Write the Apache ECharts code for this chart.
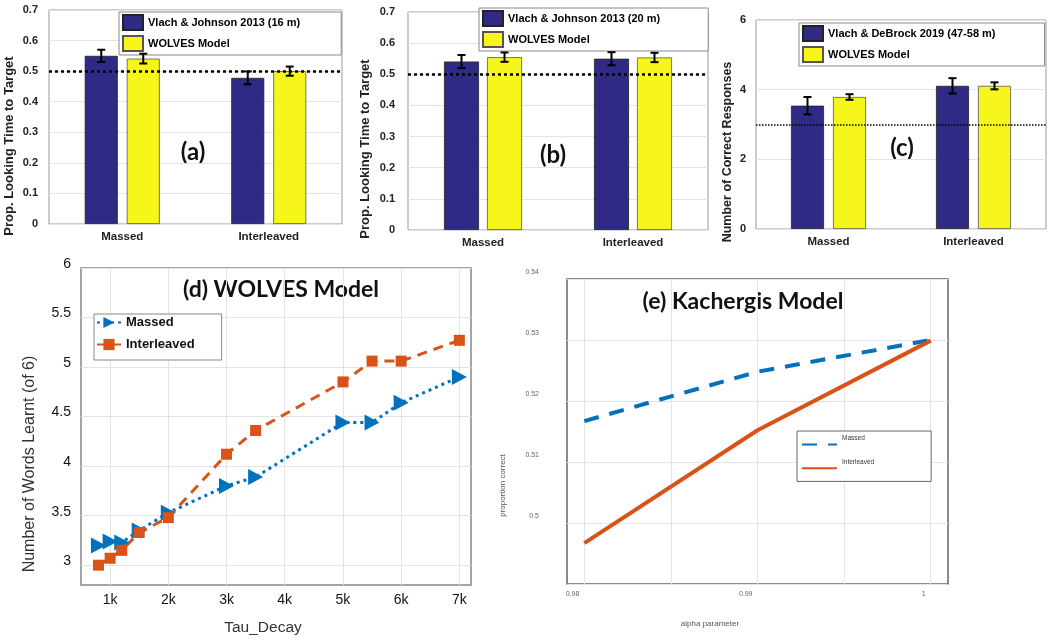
<!DOCTYPE html>
<html><head><meta charset="utf-8">
<script src="https://cdn.jsdelivr.net/npm/echarts@6/dist/echarts.min.js"></script>
<style>html,body{margin:0;padding:0;background:#fff}#c{width:1050px;height:639px}</style>
</head><body><div id="c"></div>
<script>
// ---------- data ----------
const categories = ['Massed', 'Interleaved'];
const modelName = 'WOLVES Model';

const aStudyName = 'Vlach & Johnson 2013 (16 m)';
const aStudy = [0.55, 0.478];
const aStudyErr = [0.02, 0.021];
const aModel = [0.541, 0.50];
const aModelErr = [0.016, 0.015];

const bStudyName = 'Vlach & Johnson 2013 (20 m)';
const bStudy = [0.541, 0.55];
const bStudyErr = [0.021, 0.021];
const bModel = [0.555, 0.554];
const bModelErr = [0.015, 0.015];

const cStudyName = 'Vlach & DeBrock 2019 (47-58 m)';
const cStudy = [3.54, 4.11];
const cStudyErr = [0.25, 0.22];
const cModel = [3.79, 4.11];
const cModelErr = [0.08, 0.1];

const chanceProp = 0.5;
const chanceCount = 3;

const tauDecay = [800, 1000, 1200, 1500, 2000, 3000, 3500, 5000, 5500, 6000, 7000];
const dMassed = [3.20, 3.24, 3.23, 3.35, 3.53, 3.80, 3.89, 4.44, 4.44, 4.64, 4.90];
const dInterleaved = [3.00, 3.07, 3.15, 3.33, 3.48, 4.12, 4.36, 4.85, 5.06, 5.06, 5.27];

const alphaParam = [0.98, 0.99, 1.0];
const eMassed = [0.5167, 0.5248, 0.5300];
const eInterleaved = [0.4967, 0.5152, 0.5299];

const panelLabels = ['(a)', '(b)', '(c)'];
const dTitle = '(d) WOLVES Model';
const eTitle = '(e) Kachergis Model';

// ---------- styling ----------
const FONT = '"Liberation Sans", Arial, sans-serif';
const TITLE_FONT = 'Lato, "Open Sans", sans-serif';
const BLUE_BAR = '#2f2a85';
const YELLOW_BAR = '#f6f61a';
const MBLUE = '#0072BD';
const MORANGE = '#D95319';
const T = 'rgba(0,0,0,0)';
const GRIDC = '#e4e4e4';

function errRender(offset) {
  return function (params, api) {
    const c = api.value(0), m = api.value(1), e = api.value(2);
    const x = api.coord([c, m])[0] + offset;
    const top = api.coord([c, m + e])[1];
    const bot = api.coord([c, m - e])[1];
    const cap = 4;
    const st = { stroke: '#000', lineWidth: 2 };
    return { type: 'group', children: [
      { type: 'line', shape: { x1: x, y1: top, x2: x, y2: bot }, style: st },
      { type: 'line', shape: { x1: x - cap, y1: top, x2: x + cap, y2: top }, style: st },
      { type: 'line', shape: { x1: x - cap, y1: bot, x2: x + cap, y2: bot }, style: st }
    ]};
  };
}

function barSeries(key, idx, studyName, study, studyErr, model, modelErr, barW, gap, chance, chanceW, chanceDash) {
  const off = (barW + gap) / 2;
  const mk = {
    silent: true, symbol: ['none', 'none'], label: { show: false },
    lineStyle: { color: '#000', width: chanceW, type: chanceDash },
    data: [{ yAxis: chance }]
  };
  return [
    { type: 'bar', name: key + '~' + studyName, xAxisIndex: idx, yAxisIndex: idx,
      data: study, barWidth: barW, barGap: (gap / barW * 100) + '%',
      itemStyle: { color: BLUE_BAR, borderColor: '#222', borderWidth: 0.8 } },
    { type: 'bar', name: key + '~' + modelName, xAxisIndex: idx, yAxisIndex: idx,
      data: model, barWidth: barW, barGap: (gap / barW * 100) + '%',
      itemStyle: { color: YELLOW_BAR, borderColor: '#555', borderWidth: 0.8 }, markLine: mk },
    { type: 'custom', xAxisIndex: idx, yAxisIndex: idx, renderItem: errRender(-off),
      data: study.map((v, i) => [i, v, studyErr[i]]), encode: { x: 0, y: 1 }, z: 5 },
    { type: 'custom', xAxisIndex: idx, yAxisIndex: idx, renderItem: errRender(off),
      data: model.map((v, i) => [i, v, modelErr[i]]), encode: { x: 0, y: 1 }, z: 5 }
  ];
}

function barLegend(key, studyName, left, top, padR) {
  return {
    left: left, top: top, orient: 'vertical', selectedMode: false,
    data: [key + '~' + studyName, key + '~' + modelName],
    formatter: n => n.split('~')[1],
    icon: 'rect', itemWidth: 20, itemHeight: 15, itemGap: 4,
    padding: [2, padR, 3, 3], backgroundColor: '#fff', borderColor: '#888', borderWidth: 1,
    textStyle: { fontFamily: FONT, fontWeight: 'bold', fontSize: 11, color: '#000' }
  };
}

function catX(idx) {
  return { type: 'category', gridIndex: idx, data: categories,
    axisLine: { show: false }, axisTick: { show: false },
    axisLabel: { fontFamily: FONT, fontWeight: 'bold', fontSize: 11.5, color: '#222', margin: 7 },
    splitLine: { show: false } };
}
function valY(idx, max, interval, name, gap, pad, margin, nameSize) {
  return { type: 'value', gridIndex: idx, min: 0, max: max, interval: interval,
    name: name, nameLocation: 'middle', nameGap: gap,
    nameTextStyle: { fontFamily: FONT, fontWeight: 'bold', fontSize: nameSize, color: '#222', padding: [0, pad, 0, 0] },
    axisLine: { show: false }, axisTick: { show: false },
    axisLabel: { fontFamily: FONT, fontWeight: 'bold', fontSize: 11, color: '#222', margin: margin },
    splitLine: { show: true, lineStyle: { color: GRIDC, width: 1 } } };
}

const option = {
  animation: false,
  backgroundColor: '#fff',
  textStyle: { fontFamily: FONT },
  grid: [
    { left: 49, top: 10, width: 293, height: 214, show: true, borderColor: '#999', borderWidth: 1 },
    { left: 408, top: 12, width: 300, height: 218, show: true, borderColor: '#999', borderWidth: 1 },
    { left: 756, top: 20, width: 290, height: 209, show: true, borderColor: '#999', borderWidth: 1 },
    { left: 81, top: 268, width: 390, height: 317, show: true, borderColor: '#888', borderWidth: 1.5 },
    { left: 567, top: 279, width: 381, height: 305, show: true, borderColor: '#666', borderWidth: 1.5 }
  ],
  xAxis: [
    catX(0), catX(1), catX(2),
    { type: 'value', gridIndex: 3, min: 500, max: 7200, interval: 500,
      name: 'Tau_Decay', nameLocation: 'middle', nameGap: 35,
      nameTextStyle: { fontFamily: FONT, fontSize: 15.5, color: '#333', padding: [0, 26, 0, 0] },
      axisLine: { show: false }, axisTick: { show: false },
      axisLabel: { fontFamily: FONT, fontSize: 14, color: '#111', margin: 8,
        formatter: v => (Math.round(v) % 1000 === 0 ? (Math.round(v) / 1000) + 'k' : '') },
      splitLine: { show: true, lineStyle: { color: [T, GRIDC], width: 1 } } },
    { type: 'value', gridIndex: 4, min: 0.979, max: 1.001, interval: 0.001,
      name: 'alpha parameter', nameLocation: 'middle', nameGap: 36,
      nameTextStyle: { fontFamily: FONT, fontSize: 8, color: '#555', padding: [0, 95, 0, 0] },
      axisLine: { show: false }, axisTick: { show: false },
      axisLabel: { fontFamily: FONT, fontSize: 7, color: '#666', margin: 7, align: 'right', padding: [0, 5, 0, 0],
        formatter: v => { const k = Math.round(v * 1000); return k % 10 === 0 ? String(k / 1000) : ''; } },
      splitLine: { show: true, lineStyle: { color: [T, GRIDC, T, T, T], width: 1 } } }
  ],
  yAxis: [
    valY(0, 0.7, 0.1, 'Prop. Looking Time to Target', 33, 58, 11, 13),
    valY(1, 0.7, 0.1, 'Prop. Looking Time to Target', 36, 56, 13, 13),
    valY(2, 6, 2, 'Number of Correct Responses', 22, 55, 10, 12.5),
    { type: 'value', gridIndex: 3, min: 2.8, max: 6, interval: 0.1,
      name: 'Number of Words Learnt (of 6)', nameLocation: 'middle', nameGap: 43,
      nameTextStyle: { fontFamily: FONT, fontSize: 16, color: '#333', padding: [0, 75, 0, 0] },
      axisLine: { show: false }, axisTick: { show: false },
      axisLabel: { fontFamily: FONT, fontSize: 14, color: '#111', margin: 10, verticalAlign: 'bottom', lineHeight: 8,
        formatter: v => { const r = Math.round(v * 2) / 2; return Math.abs(v - r) < 1e-6 ? String(r) : ''; } },
      splitLine: { show: true, lineStyle: { color: [T, T, GRIDC, T, T], width: 1 } } },
    { type: 'value', gridIndex: 4, min: 0.49, max: 0.54, interval: 0.01,
      name: 'proportion correct', nameLocation: 'middle', nameGap: 60,
      nameTextStyle: { fontFamily: FONT, fontSize: 8, color: '#555', padding: [0, 108, 0, 0] },
      axisLine: { show: false }, axisTick: { show: false },
      axisLabel: { fontFamily: FONT, fontSize: 7, color: '#666', margin: 28, verticalAlign: 'bottom', lineHeight: 14,
        formatter: v => { const k = Math.round(v * 100); return k === 49 ? '' : String(k / 100); } },
      splitLine: { show: true, lineStyle: { color: GRIDC, width: 1 } } }
  ],
  legend: [
    barLegend('a', aStudyName, 119, 12, 41),
    barLegend('b', bStudyName, 479, 8, 48),
    barLegend('c', cStudyName, 799, 23, 49),
    { left: 94, top: 314, orient: 'vertical', selectedMode: false,
      data: ['d~Massed', 'd~Interleaved'], formatter: n => n.split('~')[1],
      itemWidth: 24, itemHeight: 14, itemGap: 9, padding: [2, 27, 9, 2],
      backgroundColor: '#fff', borderColor: '#888', borderWidth: 1,
      textStyle: { fontFamily: FONT, fontWeight: 'bold', fontSize: 13, color: '#111' } },
    { left: 797, top: 431, orient: 'vertical', selectedMode: false,
      data: ['e~Massed', 'e~Interleaved'], formatter: n => '{t|' + n.split('~')[1] + '}',
      itemWidth: 35, itemHeight: 8, itemGap: 11, padding: [4, 57, 10, 4],
      itemStyle: { opacity: 0 },
      backgroundColor: '#fff', borderColor: '#666', borderWidth: 1,
      textStyle: { fontFamily: FONT, fontSize: 6.5, color: '#333',
        rich: { t: { fontFamily: FONT, fontSize: 6.5, color: '#333', padding: [0, 0, 12, 0] } } } }
  ],
  graphic: [
    { type: 'text', x: 193, y: 152, style: { text: panelLabels[0], font: 'bold 24px ' + TITLE_FONT, fill: '#111', textAlign: 'center', textVerticalAlign: 'middle' } },
    { type: 'text', x: 553, y: 155, style: { text: panelLabels[1], font: 'bold 24px ' + TITLE_FONT, fill: '#111', textAlign: 'center', textVerticalAlign: 'middle' } },
    { type: 'text', x: 902, y: 148, style: { text: panelLabels[2], font: 'bold 24px ' + TITLE_FONT, fill: '#111', textAlign: 'center', textVerticalAlign: 'middle' } },
    { type: 'text', x: 281, y: 290, style: { text: dTitle, font: 'bold 23px ' + TITLE_FONT, fill: '#111', textAlign: 'center', textVerticalAlign: 'middle' } },
    { type: 'text', x: 743, y: 302, style: { text: eTitle, font: 'bold 23px ' + TITLE_FONT, fill: '#111', textAlign: 'center', textVerticalAlign: 'middle' } }
  ],
  series: [].concat(
    barSeries('a', 0, aStudyName, aStudy, aStudyErr, aModel, aModelErr, 33, 9, chanceProp, 2.5, [3, 3]),
    barSeries('b', 1, bStudyName, bStudy, bStudyErr, bModel, bModelErr, 35, 8, chanceProp, 2.5, [3, 3]),
    barSeries('c', 2, cStudyName, cStudy, cStudyErr, cModel, cModelErr, 33, 9, chanceCount, 1.5, [1.5, 1.5]),
    [
      { type: 'line', name: 'd~Massed', xAxisIndex: 3, yAxisIndex: 3,
        data: tauDecay.map((t, i) => [t, dMassed[i]]),
        symbol: 'triangle', symbolRotate: -90, symbolSize: [16, 15],
        itemStyle: { color: MBLUE }, lineStyle: { color: MBLUE, width: 3, type: [3, 4] } },
      { type: 'line', name: 'd~Interleaved', xAxisIndex: 3, yAxisIndex: 3,
        data: tauDecay.map((t, i) => [t, dInterleaved[i]]),
        symbol: 'rect', symbolSize: 11,
        itemStyle: { color: MORANGE }, lineStyle: { color: MORANGE, width: 3, type: [10, 7] } },
      { type: 'line', name: 'e~Massed', xAxisIndex: 4, yAxisIndex: 4,
        data: alphaParam.map((a, i) => [a, eMassed[i]]),
        symbol: 'none', lineStyle: { color: MBLUE, width: 4, type: [15, 11] }, itemStyle: { color: MBLUE } },
      { type: 'line', name: 'e~Interleaved', xAxisIndex: 4, yAxisIndex: 4,
        data: alphaParam.map((a, i) => [a, eInterleaved[i]]),
        symbol: 'none', lineStyle: { color: MORANGE, width: 4 }, itemStyle: { color: MORANGE } }
    ]
  )
};

const chart = echarts.init(document.getElementById('c'), null, { renderer: 'canvas' });
chart.setOption(option);
</script>
</body></html>
